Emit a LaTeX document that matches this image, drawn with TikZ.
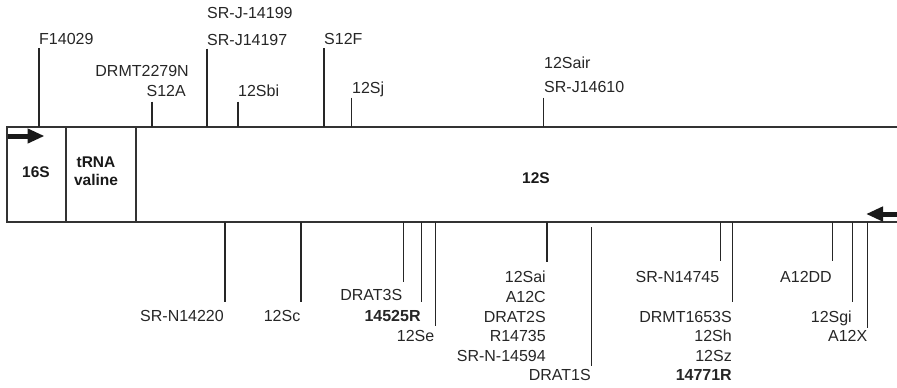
\documentclass[tikz,border=0pt]{standalone}
\usepackage{fontspec}
\setmainfont{Liberation Sans}
\usetikzlibrary{arrows.meta}
\begin{document}
\begin{tikzpicture}[x=1pt, y=-1pt,
    gbox/.style={line width=1.5pt, draw=black!80},
    tick/.style={line width=1.3pt, draw=black!85},
    site/.style={inner sep=0pt, text=black!85, font=\fontsize{16}{19}\selectfont},
    gname/.style={inner sep=0pt, align=center, text=black!90,
                  font=\fontsize{15.5}{18.3}\selectfont\bfseries},
    dirarrow/.style={line width=5pt, draw=black!90, -{Triangle[length=17pt,width=14pt]}}
]
    \useasboundingbox (0,0) rectangle (897,388);

    % gene map
    \coordinate (tl) at (7,127);
    \coordinate (tr) at (897,127);
    \coordinate (bl) at (7,222);
    \coordinate (br) at (897,222);
    \draw[gbox] (tr) -- (tl) -- (bl) -- (br);
    \draw[gbox] (66,127) -- (66,222);
    \draw[gbox] (136,127) -- (136,222);

    \node[gname] (g16S)  at (36,172)  {16S};
    \node[gname] (gtRNA) at (96,171)  {tRNA\\valine};
    \node[gname] (g12S)  at (536,178) {12S};

    \coordinate (fwdA) at (7.5,136);
    \coordinate (fwdB) at (44.5,136);
    \coordinate (revA) at (897,214);
    \coordinate (revB) at (866,214);
    \draw[dirarrow] (fwdA) -- (fwdB);
    \draw[dirarrow] (revA) -- (revB);

    % primer sites above the map
    \foreach \n/\x/\y in {F14029/39/48, SRJ14197/207/48.5, S12A/152/101.5,
                          Sbi/238/101.5, S12F/324/48, Sj/351.5/97.5, Sair/543.5/97.5}{
        \coordinate (\n-end)  at (\x,\y);
        \coordinate (\n-foot) at (\x,127);
        \draw[tick] (\n-end) -- (\n-foot);
    }
    \node[site, anchor=base west] (lF14029)   at (39,44)    {F14029};
    \node[site, anchor=base west] (lSRJ14199) at (207,18.5) {SR-J-14199};
    \node[site, anchor=base west] (lSRJ14197) at (207,45)   {SR-J14197};
    \node[site, anchor=base east] (lDRMT2279) at (189,76)   {DRMT2279N};
    \node[site, anchor=base east] (lS12A)     at (186,96.5) {S12A};
    \node[site, anchor=base west] (lSbi)      at (238,96.5) {12Sbi};
    \node[site, anchor=base west] (lS12F)     at (324,44)   {S12F};
    \node[site, anchor=base west] (lSj)       at (352,93.5) {12Sj};
    \node[site, anchor=base west] (lSair)     at (544,68.5) {12Sair};
    \node[site, anchor=base west] (lSRJ14610) at (544,92.5) {SR-J14610};

    % primer sites below the map
    \foreach \n/\x/\y in {SRN14220/225/301.7, Sc/301/301.7, DRAT3S/403.3/281.7,
                          R14525/421.7/301.7, Se/435.3/326, Sai/547/262,
                          SRN14745/720.7/260.5, DRMT1653/732.7/301.7, A12DD/832.7/260.7,
                          Sgi/852.7/301.7, A12X/867.7/328}{
        \coordinate (\n-end)  at (\x,\y);
        \coordinate (\n-foot) at (\x,222);
        \draw[tick] (\n-foot) -- (\n-end);
    }
    \coordinate (DRAT1S-foot) at (591.7,227);
    \coordinate (DRAT1S-end)  at (591.7,366);
    \draw[tick] (DRAT1S-foot) -- (DRAT1S-end);

    \node[site, anchor=base east] (lSRN14220) at (224,321.5)   {SR-N14220};
    \node[site, anchor=base east] (lSc)       at (300.5,321.5) {12Sc};
    \node[site, anchor=base east] (lDRAT3S)   at (402.5,300.7) {DRAT3S};
    \node[site, anchor=base east] (lR14525)   at (420.8,321.5) {\bfseries 14525R};
    \node[site, anchor=base east] (lSe)       at (434.5,341.7) {12Se};
    \node[site, anchor=base east] (lSai)      at (546,282)     {12Sai};
    \node[site, anchor=base east] (lA12C)     at (546,302)     {A12C};
    \node[site, anchor=base east] (lDRAT2S)   at (546,322)     {DRAT2S};
    \node[site, anchor=base east] (lR14735)   at (546,341.7)   {R14735};
    \node[site, anchor=base east] (lSRN14594) at (546,361.3)   {SR-N-14594};
    \node[site, anchor=base east] (lDRAT1S)   at (591,380.7)   {DRAT1S};
    \node[site, anchor=base east] (lSRN14745) at (719.5,282)   {SR-N14745};
    \node[site, anchor=base east] (lDRMT1653) at (732,322)     {DRMT1653S};
    \node[site, anchor=base east] (lSh)       at (732,341.7)   {12Sh};
    \node[site, anchor=base east] (lSz)       at (732,361.3)   {12Sz};
    \node[site, anchor=base east] (lR14771)   at (732,380.7)   {\bfseries 14771R};
    \node[site, anchor=base east] (lA12DD)    at (832,282)     {A12DD};
    \node[site, anchor=base east] (lSgi)      at (852,322)     {12Sgi};
    \node[site, anchor=base east] (lA12X)     at (867.5,341.7) {A12X};
\end{tikzpicture}
\end{document}
